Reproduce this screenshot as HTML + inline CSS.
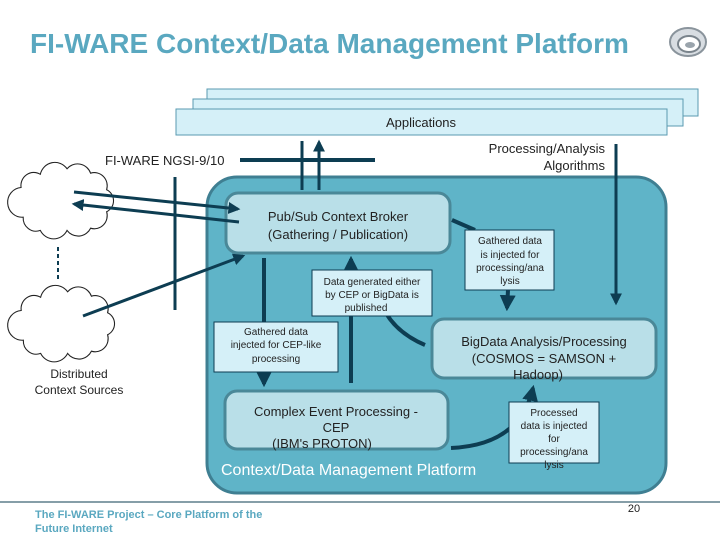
<!DOCTYPE html>
<html><head><meta charset="utf-8"><style>
html,body{margin:0;padding:0;background:#fff;}
svg{display:block;font-family:"Liberation Sans",sans-serif;}
</style></head><body>
<svg width="720" height="540" viewBox="0 0 720 540" xmlns="http://www.w3.org/2000/svg">
<defs>
<marker id="ah" viewBox="0 0 10 10" refX="8" refY="5" markerWidth="4" markerHeight="4" orient="auto"><path d="M0,0 L10,5 L0,10 z" fill="#0d3d52"/></marker>
</defs>
<text x="30" y="53" font-size="28" font-weight="bold" fill="#5aa8c0">FI-WARE Context/Data Management Platform</text>
<g transform="translate(688,42)">
<ellipse cx="0" cy="0" rx="18" ry="14" fill="#d8dde2" stroke="#8a949c" stroke-width="2"/>
<ellipse cx="1" cy="2" rx="11" ry="8" fill="#fff" stroke="#7a848c" stroke-width="2"/>
<ellipse cx="2" cy="3" rx="5" ry="3" fill="#9aa4ac"/>
</g>
<!-- clouds -->
<g fill="#fff" stroke="#222" stroke-width="1">
<path transform="translate(5,160) scale(1.07,1.1)" d="M15,25 a12,12 0 0 1 18,-12 a14,14 0 0 1 25,-5 a13,13 0 0 1 22,4 a12,12 0 0 1 15,15 a11,11 0 0 1 0,20 a12,12 0 0 1 -15,15 a13,13 0 0 1 -22,2 a14,14 0 0 1 -25,0 a12,12 0 0 1 -16,-12 a11,11 0 0 1 -2,-27 z"/>
<path transform="translate(5,283) scale(1.08,1.1)" d="M15,25 a12,12 0 0 1 18,-12 a14,14 0 0 1 25,-5 a13,13 0 0 1 22,4 a12,12 0 0 1 15,15 a11,11 0 0 1 0,20 a12,12 0 0 1 -15,15 a13,13 0 0 1 -22,2 a14,14 0 0 1 -25,0 a12,12 0 0 1 -16,-12 a11,11 0 0 1 -2,-27 z"/>
</g>
<!-- applications -->
<rect x="207" y="89" width="491" height="27" fill="#d5f0f8" stroke="#5a9ab0"/>
<rect x="193" y="99" width="490" height="27" fill="#d5f0f8" stroke="#5a9ab0"/>
<rect x="176" y="109" width="491" height="26" fill="#d5f0f8" stroke="#5a9ab0"/>
<text x="421" y="127" font-size="13" text-anchor="middle" fill="#222">Applications</text>
<text x="105" y="165" font-size="13" fill="#222">FI-WARE NGSI-9/10</text>
<text x="605" y="153" font-size="13" text-anchor="end" fill="#222">Processing/Analysis</text>
<text x="605" y="170" font-size="13" text-anchor="end" fill="#222">Algorithms</text>
<!-- platform -->
<rect x="207" y="177" width="459" height="316" rx="30" fill="#5fb4c8" stroke="#3f7f92" stroke-width="3"/>
<rect x="226" y="193" width="224" height="60" rx="12" fill="#b9dfe8" stroke="#4a8898" stroke-width="3"/>
<text x="338" y="221" font-size="13" text-anchor="middle" fill="#222">Pub/Sub Context Broker</text>
<text x="338" y="239" font-size="13" text-anchor="middle" fill="#222">(Gathering / Publication)</text>
<rect x="432" y="319" width="224" height="59" rx="12" fill="#b9dfe8" stroke="#4a8898" stroke-width="3"/>
<text x="544" y="346" font-size="13" text-anchor="middle" fill="#222">BigData Analysis/Processing</text>
<text x="544" y="363" font-size="13" text-anchor="middle" fill="#222">(COSMOS = SAMSON +</text>
<text x="538" y="379" font-size="13" text-anchor="middle" fill="#222">Hadoop)</text>
<rect x="225" y="391" width="223" height="58" rx="12" fill="#b9dfe8" stroke="#4a8898" stroke-width="3"/>
<text x="336" y="416" font-size="13" text-anchor="middle" fill="#222">Complex Event Processing -</text>
<text x="336" y="432" font-size="13" text-anchor="middle" fill="#222">CEP</text>
<text x="322" y="448" font-size="13" text-anchor="middle" fill="#222">(IBM's PROTON)</text>
<text x="221" y="475" font-size="16" fill="#fff">Context/Data Management Platform</text>
<!-- lines -->
<g stroke="#0d3d52" stroke-width="4" fill="none">
<line x1="240" y1="160" x2="375" y2="160"/>
<line x1="175" y1="177" x2="175" y2="310" stroke-width="3"/>
<line x1="302" y1="141" x2="302" y2="190" stroke-width="3"/>
<line x1="319" y1="190" x2="319" y2="142" stroke-width="3" marker-end="url(#ah)"/>
<line x1="616" y1="144" x2="616" y2="303" stroke-width="3" marker-end="url(#ah)"/>
<line x1="74" y1="192" x2="238" y2="209" stroke-width="3" marker-end="url(#ah)"/>
<line x1="239" y1="222" x2="74" y2="204" stroke-width="3" marker-end="url(#ah)"/>
<line x1="83" y1="316" x2="243" y2="256" stroke-width="3" marker-end="url(#ah)"/>
<line x1="264" y1="258" x2="264" y2="384" marker-end="url(#ah)"/>
<line x1="351" y1="383" x2="351" y2="259" marker-end="url(#ah)"/>
<path d="M425,345 Q390,330 380,300"/>
<path d="M452,220 L475,230"/>
<line x1="508" y1="290" x2="507" y2="308" marker-end="url(#ah)"/>
<path d="M451,448 Q520,445 533,388" marker-end="url(#ah)"/>
<line x1="58" y1="247" x2="58" y2="282" stroke-width="2" stroke-dasharray="4,3"/>
</g>
<!-- label boxes -->
<rect x="312" y="270" width="120" height="46" fill="#d5f0f8" stroke="#0d3d52"/>
<text x="372" y="285" font-size="10" text-anchor="middle" fill="#222">Data generated either</text>
<text x="372" y="298" font-size="10" text-anchor="middle" fill="#222">by CEP or BigData is</text>
<text x="366" y="311" font-size="10" text-anchor="middle" fill="#222">published</text>
<rect x="214" y="322" width="124" height="50" fill="#d5f0f8" stroke="#0d3d52"/>
<text x="276" y="335" font-size="10" text-anchor="middle" fill="#222">Gathered data</text>
<text x="276" y="348" font-size="10" text-anchor="middle" fill="#222">injected for CEP-like</text>
<text x="276" y="362" font-size="10" text-anchor="middle" fill="#222">processing</text>
<rect x="465" y="230" width="89" height="60" fill="#d5f0f8" stroke="#0d3d52"/>
<text x="510" y="244" font-size="10" text-anchor="middle" fill="#222">Gathered data</text>
<text x="510" y="258" font-size="10" text-anchor="middle" fill="#222">is injected for</text>
<text x="510" y="271" font-size="10" text-anchor="middle" fill="#222">processing/ana</text>
<text x="510" y="284" font-size="10" text-anchor="middle" fill="#222">lysis</text>
<rect x="509" y="402" width="90" height="61" fill="#d5f0f8" stroke="#0d3d52"/>
<text x="554" y="416" font-size="10" text-anchor="middle" fill="#222">Processed</text>
<text x="554" y="429" font-size="10" text-anchor="middle" fill="#222">data is injected</text>
<text x="554" y="442" font-size="10" text-anchor="middle" fill="#222">for</text>
<text x="554" y="455" font-size="10" text-anchor="middle" fill="#222">processing/ana</text>
<text x="554" y="468" font-size="10" text-anchor="middle" fill="#222">lysis</text>
<text x="79" y="378" font-size="12" text-anchor="middle" fill="#222">Distributed</text>
<text x="79" y="394" font-size="12" text-anchor="middle" fill="#222">Context Sources</text>
<!-- footer -->
<line x1="0" y1="502" x2="720" y2="502" stroke="#0d3d52" stroke-width="1"/>
<text x="35" y="518" font-size="11" font-weight="bold" fill="#5aa8c0">The FI-WARE Project – Core Platform of the</text>
<text x="35" y="532" font-size="11" font-weight="bold" fill="#5aa8c0">Future Internet</text>
<text x="634" y="512" font-size="11" text-anchor="middle" fill="#222">20</text>
</svg>
</body></html>
